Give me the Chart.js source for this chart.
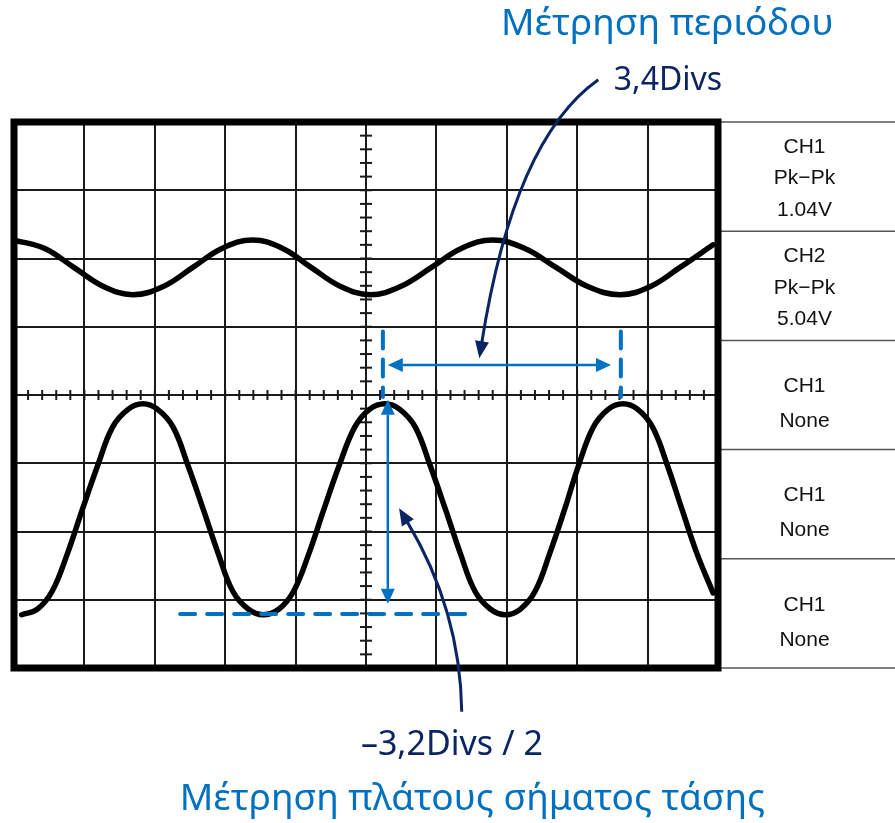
<!DOCTYPE html>
<html>
<head>
<meta charset="utf-8">
<script src="https://cdn.jsdelivr.net/npm/chart.js@4.4.1/dist/chart.umd.min.js"></script>
<style>
  html, body { margin: 0; padding: 0; background: #fff; }
  canvas { display: block; }
</style>
</head>
<body>
<canvas id="scope" width="895" height="823"></canvas>
<script>
// screen is 10 x 8 divisions, values below are in divisions
const ch1X = [0.0, 0.43, 0.85, 1.27, 1.69, 2.12, 2.54, 2.96, 3.39, 3.81, 4.22, 4.64, 5.06, 5.49, 5.93, 6.36, 6.80, 7.25, 7.70, 8.15, 8.61, 9.04, 9.46, 9.93];
const ch1Y = [2.27, 2.15, 1.87, 1.59, 1.47, 1.59, 1.87, 2.15, 2.27, 2.15, 1.87, 1.59, 1.47, 1.59, 1.87, 2.15, 2.27, 2.15, 1.87, 1.59, 1.47, 1.59, 1.87, 2.20];

const ch2X = [0.11, 0.33, 0.54, 0.76, 0.97, 1.19, 1.40, 1.62, 1.83,
              2.04, 2.26, 2.47, 2.69, 2.90, 3.11, 3.33, 3.54,
              3.76, 3.97, 4.19, 4.40, 4.62, 4.84, 5.05, 5.27,
              5.48, 5.70, 5.91, 6.13, 6.34, 6.55, 6.77, 6.98,
              7.19, 7.40, 7.61, 7.82, 8.02, 8.23, 8.44, 8.65,
              8.86, 9.07, 9.28, 9.49, 9.70, 9.93];
const ch2Y = [-3.22, -3.14, -2.88, -2.32, -1.68, -1.03, -0.47, -0.21, -0.13,
              -0.21, -0.47, -1.03, -1.68, -2.32, -2.88, -3.14, -3.22,
              -3.14, -2.88, -2.32, -1.68, -1.03, -0.47, -0.21, -0.13,
              -0.21, -0.47, -1.03, -1.68, -2.32, -2.88, -3.14, -3.22,
              -3.14, -2.88, -2.32, -1.68, -1.03, -0.47, -0.21, -0.13,
              -0.21, -0.47, -1.03, -1.68, -2.32, -2.90];

// measurement helpers (divisions)
const periodMarksX = [5.24, 8.62];
const periodMarkY = [-0.03, 0.93];
const periodArrowX = [5.31, 8.48];
const periodArrowY = 0.44;
const ampArrowX = 5.31;
const ampArrowY = [-0.07, -3.06];
const troughLineX = [2.36, 6.43];
const troughLineY = -3.21;

// callout arrows: start, control, tip
const periodCallout = [[8.30, 4.62], [7.10, 3.75], [6.61, 0.54]];
const ampCallout = [[6.36, -4.64], [6.34, -3.15], [5.47, -1.66]];

const panelLabels = [
    ['CH1', 'Pk\u2212Pk', '1.04V'],
    ['CH2', 'Pk\u2212Pk', '5.04V'],
    ['CH1', 'None'],
    ['CH1', 'None'],
    ['CH1', 'None']
];
const panelEdges = [4, 2.4, 0.8, -0.8, -2.4, -4];

const BLUE = '#0070C0';
const NAVY = '#0B2463';

function pts(xs, ys) { return xs.map((x, i) => ({ x: x, y: ys[i] })); }

function line(ctx, x1, y1, x2, y2) {
    ctx.beginPath(); ctx.moveTo(x1, y1); ctx.lineTo(x2, y2); ctx.stroke();
}

function head(ctx, tx, ty, fx, fy, len, half) {
    const a = Math.atan2(ty - fy, tx - fx);
    ctx.beginPath();
    ctx.moveTo(tx, ty);
    ctx.lineTo(tx - len * Math.cos(a) + half * Math.sin(a), ty - len * Math.sin(a) - half * Math.cos(a));
    ctx.lineTo(tx - len * Math.cos(a) - half * Math.sin(a), ty - len * Math.sin(a) + half * Math.cos(a));
    ctx.closePath();
    ctx.fill();
}

function doubleArrow(ctx, x1, y1, x2, y2) {
    const len = 15, half = 7;
    const d = Math.hypot(x2 - x1, y2 - y1);
    const ux = (x2 - x1) / d, uy = (y2 - y1) / d;
    ctx.strokeStyle = BLUE; ctx.fillStyle = BLUE; ctx.lineWidth = 2.5;
    line(ctx, x1 + ux * len, y1 + uy * len, x2 - ux * len, y2 - uy * len);
    head(ctx, x1, y1, x2, y2, len, half);
    head(ctx, x2, y2, x1, y1, len, half);
}

function callout(ctx, x, y, c) {
    const p0 = [x.getPixelForValue(c[0][0]), y.getPixelForValue(c[0][1])];
    const p1 = [x.getPixelForValue(c[1][0]), y.getPixelForValue(c[1][1])];
    const p2 = [x.getPixelForValue(c[2][0]), y.getPixelForValue(c[2][1])];
    const len = 17, half = 7;
    const a = Math.atan2(p2[1] - p1[1], p2[0] - p1[0]);
    ctx.strokeStyle = NAVY; ctx.fillStyle = NAVY; ctx.lineWidth = 3;
    ctx.beginPath();
    ctx.moveTo(p0[0], p0[1]);
    ctx.quadraticCurveTo(p1[0], p1[1], p2[0] - Math.cos(a) * (len - 2), p2[1] - Math.sin(a) * (len - 2));
    ctx.stroke();
    head(ctx, p2[0], p2[1], p1[0], p1[1], len, half);
}

const scopePlugin = {
    id: 'scope',
    beforeDatasetsDraw(chart) {
        // minor ticks on the centre cross
        const { ctx, scales: { x, y } } = chart;
        const cx = x.getPixelForValue(5), cy = y.getPixelForValue(0);
        ctx.save();
        ctx.strokeStyle = '#1a1a1a'; ctx.lineWidth = 2;
        for (let i = 0; i <= 40; i++) {
            const py = y.getPixelForValue(-4 + i * 0.2);
            line(ctx, cx - 6, py, cx + 6, py);
        }
        for (let i = 0; i <= 50; i++) {
            const px = x.getPixelForValue(i * 0.2);
            line(ctx, px, cy - 5, px, cy + 5);
        }
        ctx.restore();
    },
    afterDraw(chart) {
        const { ctx, chartArea: a, scales: { x, y } } = chart;
        ctx.save();

        // right-hand measurement panel
        ctx.strokeStyle = '#555'; ctx.lineWidth = 1.5;
        panelEdges.forEach(v => {
            const py = y.getPixelForValue(v);
            line(ctx, a.right, py, chart.width, py);
        });
        ctx.fillStyle = '#111';
        ctx.font = '21px "Liberation Sans", Arial, sans-serif';
        ctx.textAlign = 'center'; ctx.textBaseline = 'middle';
        const midX = (a.right + chart.width) / 2 - 2;
        panelLabels.forEach((lines, i) => {
            const top = y.getPixelForValue(panelEdges[i]);
            const bot = y.getPixelForValue(panelEdges[i + 1]);
            const lh = lines.length === 3 ? 31.5 : 35;
            const mid = (top + bot) / 2 + (lines.length === 3 ? 2 : 9);
            lines.forEach((t, j) => {
                ctx.fillText(t, midX, mid + (j - (lines.length - 1) / 2) * lh);
            });
        });

        // screen frame
        ctx.strokeStyle = '#000'; ctx.lineWidth = 7;
        ctx.strokeRect(a.left, a.top, a.right - a.left, a.bottom - a.top);

        // blue measurement arrows
        doubleArrow(ctx, x.getPixelForValue(periodArrowX[0]), y.getPixelForValue(periodArrowY),
            x.getPixelForValue(periodArrowX[1]), y.getPixelForValue(periodArrowY));
        doubleArrow(ctx, x.getPixelForValue(ampArrowX), y.getPixelForValue(ampArrowY[0]),
            x.getPixelForValue(ampArrowX), y.getPixelForValue(ampArrowY[1]));

        // callouts
        callout(ctx, x, y, periodCallout);
        callout(ctx, x, y, ampCallout);

        // texts
        ctx.textBaseline = 'middle';
        ctx.fillStyle = BLUE;
        ctx.font = '37px "Noto Sans", sans-serif';
        ctx.textAlign = 'center';
        ctx.fillText('Μέτρηση περιόδου', x.getPixelForValue(9.28), y.getPixelForValue(5.43));
        ctx.fillText('Μέτρηση πλάτους σήματος τάσης', x.getPixelForValue(6.51), y.getPixelForValue(-5.92));
        ctx.fillStyle = NAVY;
        ctx.font = '32px "Noto Sans", sans-serif';
        ctx.textAlign = 'left';
        ctx.fillText('3,4Divs', x.getPixelForValue(8.52), y.getPixelForValue(4.60));
        ctx.font = '34px "Noto Sans", sans-serif';
        ctx.textAlign = 'center';
        ctx.fillText('\u20133,2Divs / 2', x.getPixelForValue(6.22), y.getPixelForValue(-5.13));

        ctx.restore();
    }
};

new Chart(document.getElementById('scope'), {
    type: 'line',
    data: {
        datasets: [
            { label: 'CH1', data: pts(ch1X, ch1Y), borderColor: '#000', borderWidth: 5.5, tension: 0.4, order: 3 },
            { label: 'CH2', data: pts(ch2X, ch2Y), borderColor: '#000', borderWidth: 5.5, tension: 0.4, order: 3 },
            { label: 'start', data: pts([periodMarksX[0], periodMarksX[0]], [periodMarkY[1], periodMarkY[0]]),
              borderColor: BLUE, borderWidth: 4, borderDash: [17, 11], tension: 0, order: 1 },
            { label: 'end', data: pts([periodMarksX[1], periodMarksX[1]], [periodMarkY[1], periodMarkY[0]]),
              borderColor: BLUE, borderWidth: 4, borderDash: [17, 11], tension: 0, order: 1 },
            { label: 'trough', data: pts(troughLineX, [troughLineY, troughLineY]),
              borderColor: BLUE, borderWidth: 4, borderDash: [15, 12], tension: 0, order: 1 }
        ]
    },
    options: {
        responsive: false,
        animation: false,
        devicePixelRatio: 1,
        layout: { padding: { left: 14, top: 122, right: 177, bottom: 155 } },
        elements: {
            point: { radius: 0 },
            line: { borderCapStyle: 'round', fill: false }
        },
        plugins: { legend: { display: false }, tooltip: { enabled: false } },
        scales: {
            x: {
                type: 'linear', min: 0, max: 10,
                ticks: { stepSize: 1, display: false },
                grid: { color: '#1a1a1a', lineWidth: 2, drawTicks: false },
                border: { display: false }
            },
            y: {
                type: 'linear', min: -4, max: 4,
                ticks: { stepSize: 1, display: false },
                grid: { color: '#1a1a1a', lineWidth: 2, drawTicks: false },
                border: { display: false }
            }
        }
    },
    plugins: [scopePlugin]
});
</script>
</body>
</html>
